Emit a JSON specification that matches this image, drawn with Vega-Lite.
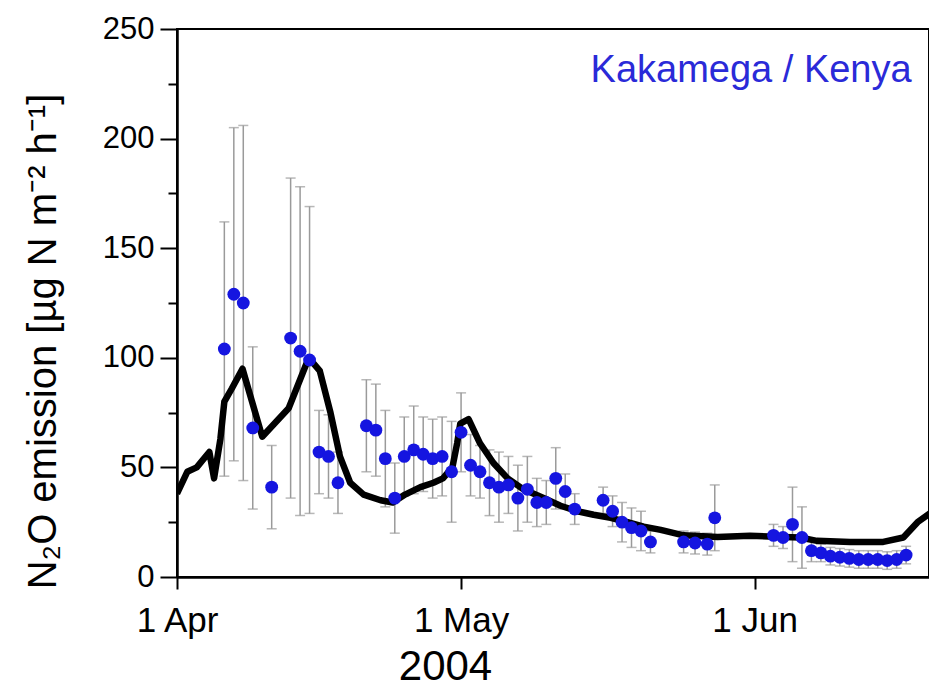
{
  "$schema": "https://vega.github.io/schema/vega-lite/v6.json",
  "autosize": {"type": "none"},
  "width": 752,
  "height": 548,
  "padding": {"left": 177, "top": 29, "right": 0, "bottom": 113},
  "background": "white",
  "config": {
    "font": "Liberation Sans",
    "view": {"stroke": "black", "strokeWidth": 2}
  },
  "datasets": {
    "obs": [
      {"date": "2004-04-06T00:00", "value": 104, "sd": 58},
      {"date": "2004-04-07T00:00", "value": 129, "sd": 76},
      {"date": "2004-04-08T00:00", "value": 125, "sd": 81},
      {"date": "2004-04-09T00:00", "value": 68, "sd": 37},
      {"date": "2004-04-11T00:00", "value": 41, "sd": 19},
      {"date": "2004-04-13T00:00", "value": 109, "sd": 73},
      {"date": "2004-04-14T00:00", "value": 103, "sd": 75},
      {"date": "2004-04-15T00:00", "value": 99, "sd": 70},
      {"date": "2004-04-16T00:00", "value": 57, "sd": 19},
      {"date": "2004-04-17T00:00", "value": 55, "sd": 19},
      {"date": "2004-04-18T00:00", "value": 43, "sd": 14},
      {"date": "2004-04-21T00:00", "value": 69, "sd": 21},
      {"date": "2004-04-22T00:00", "value": 67, "sd": 21},
      {"date": "2004-04-23T00:00", "value": 54, "sd": 22},
      {"date": "2004-04-24T00:00", "value": 36, "sd": 16},
      {"date": "2004-04-25T00:00", "value": 55, "sd": 18},
      {"date": "2004-04-26T00:00", "value": 58, "sd": 20},
      {"date": "2004-04-27T00:00", "value": 56, "sd": 17},
      {"date": "2004-04-28T00:00", "value": 54, "sd": 18},
      {"date": "2004-04-29T00:00", "value": 55, "sd": 18},
      {"date": "2004-04-30T00:00", "value": 48, "sd": 23},
      {"date": "2004-05-01T00:00", "value": 66, "sd": 18},
      {"date": "2004-05-02T00:00", "value": 51, "sd": 14},
      {"date": "2004-05-03T00:00", "value": 48, "sd": 12},
      {"date": "2004-05-04T00:00", "value": 43, "sd": 15},
      {"date": "2004-05-05T00:00", "value": 41, "sd": 16},
      {"date": "2004-05-06T00:00", "value": 42, "sd": 13},
      {"date": "2004-05-07T00:00", "value": 36, "sd": 15},
      {"date": "2004-05-08T00:00", "value": 40, "sd": 15},
      {"date": "2004-05-09T00:00", "value": 34, "sd": 11},
      {"date": "2004-05-10T00:00", "value": 34, "sd": 10},
      {"date": "2004-05-11T00:00", "value": 45, "sd": 14},
      {"date": "2004-05-12T00:00", "value": 39, "sd": 8},
      {"date": "2004-05-13T00:00", "value": 31, "sd": 7},
      {"date": "2004-05-16T00:00", "value": 35, "sd": 6},
      {"date": "2004-05-17T00:00", "value": 30, "sd": 7},
      {"date": "2004-05-18T00:00", "value": 25, "sd": 9},
      {"date": "2004-05-19T00:00", "value": 22.5, "sd": 9},
      {"date": "2004-05-20T00:00", "value": 21, "sd": 9},
      {"date": "2004-05-21T00:00", "value": 16, "sd": 5},
      {"date": "2004-05-24T12:00", "value": 16, "sd": 5},
      {"date": "2004-05-25T17:00", "value": 15.5, "sd": 5},
      {"date": "2004-05-27T00:00", "value": 15, "sd": 5},
      {"date": "2004-05-27T19:00", "value": 27, "sd": 15},
      {"date": "2004-06-03T00:00", "value": 19, "sd": 5},
      {"date": "2004-06-04T00:00", "value": 18, "sd": 5},
      {"date": "2004-06-05T00:00", "value": 24, "sd": 17},
      {"date": "2004-06-06T00:00", "value": 18, "sd": 14},
      {"date": "2004-06-07T00:00", "value": 12, "sd": 5},
      {"date": "2004-06-08T00:00", "value": 11, "sd": 4},
      {"date": "2004-06-09T00:00", "value": 9.5, "sd": 4},
      {"date": "2004-06-10T00:00", "value": 9, "sd": 4},
      {"date": "2004-06-11T00:00", "value": 8.5, "sd": 4},
      {"date": "2004-06-12T00:00", "value": 8, "sd": 4},
      {"date": "2004-06-13T00:00", "value": 8, "sd": 4},
      {"date": "2004-06-14T00:00", "value": 8, "sd": 4},
      {"date": "2004-06-15T00:00", "value": 7.5, "sd": 4},
      {"date": "2004-06-16T00:00", "value": 8, "sd": 4},
      {"date": "2004-06-17T00:00", "value": 10, "sd": 4}
    ],
    "model": [
      {"date": "2004-04-01T00:00", "value": 38},
      {"date": "2004-04-02T02:00", "value": 48},
      {"date": "2004-04-03T02:00", "value": 50},
      {"date": "2004-04-04T10:00", "value": 57},
      {"date": "2004-04-04T22:00", "value": 45},
      {"date": "2004-04-05T14:00", "value": 63},
      {"date": "2004-04-06T00:00", "value": 80},
      {"date": "2004-04-06T19:00", "value": 86},
      {"date": "2004-04-07T22:00", "value": 95},
      {"date": "2004-04-10T00:00", "value": 64},
      {"date": "2004-04-12T19:00", "value": 77},
      {"date": "2004-04-14T22:00", "value": 100},
      {"date": "2004-04-16T02:00", "value": 94},
      {"date": "2004-04-17T05:00", "value": 75},
      {"date": "2004-04-18T05:00", "value": 55},
      {"date": "2004-04-19T07:00", "value": 43},
      {"date": "2004-04-20T17:00", "value": 37.6},
      {"date": "2004-04-22T12:00", "value": 35},
      {"date": "2004-04-23T19:00", "value": 34},
      {"date": "2004-04-25T02:00", "value": 37.6},
      {"date": "2004-04-26T17:00", "value": 41},
      {"date": "2004-04-28T02:00", "value": 43},
      {"date": "2004-04-29T02:00", "value": 45},
      {"date": "2004-04-30T02:00", "value": 50},
      {"date": "2004-04-30T14:00", "value": 61},
      {"date": "2004-04-30T22:00", "value": 70},
      {"date": "2004-05-01T19:00", "value": 72},
      {"date": "2004-05-03T00:00", "value": 61},
      {"date": "2004-05-04T10:00", "value": 52},
      {"date": "2004-05-05T22:00", "value": 45},
      {"date": "2004-05-07T14:00", "value": 40},
      {"date": "2004-05-09T17:00", "value": 36},
      {"date": "2004-05-11T12:00", "value": 32.5},
      {"date": "2004-05-13T07:00", "value": 30},
      {"date": "2004-05-15T00:00", "value": 28.4},
      {"date": "2004-05-16T19:00", "value": 27},
      {"date": "2004-05-18T14:00", "value": 25},
      {"date": "2004-05-20T07:00", "value": 23},
      {"date": "2004-05-22T02:00", "value": 21.5},
      {"date": "2004-05-24T12:00", "value": 19},
      {"date": "2004-05-28T02:00", "value": 18.3},
      {"date": "2004-05-31T12:00", "value": 18.8},
      {"date": "2004-06-04T00:00", "value": 18.3},
      {"date": "2004-06-05T19:00", "value": 18},
      {"date": "2004-06-07T14:00", "value": 16.5},
      {"date": "2004-06-11T02:00", "value": 16},
      {"date": "2004-06-14T14:00", "value": 16},
      {"date": "2004-06-16T17:00", "value": 18},
      {"date": "2004-06-18T05:00", "value": 25},
      {"date": "2004-06-19T12:00", "value": 29}
    ],
    "site": [
      {"date": "2004-06-17T14:00", "value": 231, "label": "Kakamega / Kenya"}
    ]
  },
  "encoding": {
    "x": {
      "field": "date",
      "type": "temporal",
      "scale": {
        "domain": [
          {"year": 2004, "month": 4, "date": 1},
          {"year": 2004, "month": 6, "date": 19, "hours": 10}
        ]
      },
      "axis": {
        "title": "2004",
        "values": [
          {"year": 2004, "month": 4, "date": 1},
          {"year": 2004, "month": 5, "date": 1},
          {"year": 2004, "month": 6, "date": 1}
        ],
        "format": "%-d %b",
        "grid": false,
        "domainColor": "black",
        "domainWidth": 2.5,
        "tickColor": "black",
        "tickWidth": 2,
        "tickSize": 12,
        "labelFontSize": 35,
        "labelColor": "black",
        "labelPadding": 14,
        "labelFlush": false,
        "titleFontSize": 42,
        "titleFontWeight": "normal",
        "titleColor": "black",
        "titleX": 268,
        "titleY": 89,
        "titleBaseline": "middle"
      }
    },
    "y": {
      "field": "value",
      "type": "quantitative",
      "scale": {"domain": [0, 250], "nice": false, "zero": true},
      "axis": {
        "title": "N₂O emission [µg N m⁻² h⁻¹]",
        "values": [0, 25, 50, 75, 100, 125, 150, 175, 200, 225, 250],
        "labelExpr": "datum.value % 50 === 0 ? datum.label : ''",
        "grid": false,
        "domainColor": "black",
        "domainWidth": 2.5,
        "tickColor": "black",
        "tickWidth": 2,
        "tickSize": {"condition": {"test": "datum.value % 50 === 0", "value": 17}, "value": 9},
        "labelFontSize": 31,
        "labelColor": "black",
        "labelPadding": 6,
        "labelFlush": false,
        "titleFontSize": 40,
        "titleFontWeight": "normal",
        "titleColor": "black",
        "titleX": -134,
        "titleY": 312,
        "titleAlign": "center",
        "titleBaseline": "middle"
      }
    }
  },
  "layer": [
    {
      "data": {"name": "obs"},
      "mark": {
        "type": "errorbar",
        "color": "#9a9a9a",
        "rule": {"strokeWidth": 1.5},
        "ticks": {"size": 10, "thickness": 1.5, "color": "#9a9a9a"}
      },
      "encoding": {"yError": {"field": "sd"}}
    },
    {
      "data": {"name": "model"},
      "mark": {"type": "line", "color": "black", "strokeWidth": 6.5, "strokeJoin": "round", "clip": true},
      "encoding": {}
    },
    {
      "data": {"name": "obs"},
      "mark": {"type": "circle", "size": 165, "color": "#1515e0", "opacity": 1}
    },
    {
      "data": {"name": "site"},
      "mark": {"type": "text", "align": "right", "baseline": "middle", "fontSize": 38, "color": "#2a2ad8"},
      "encoding": {"text": {"field": "label"}}
    }
  ]
}
